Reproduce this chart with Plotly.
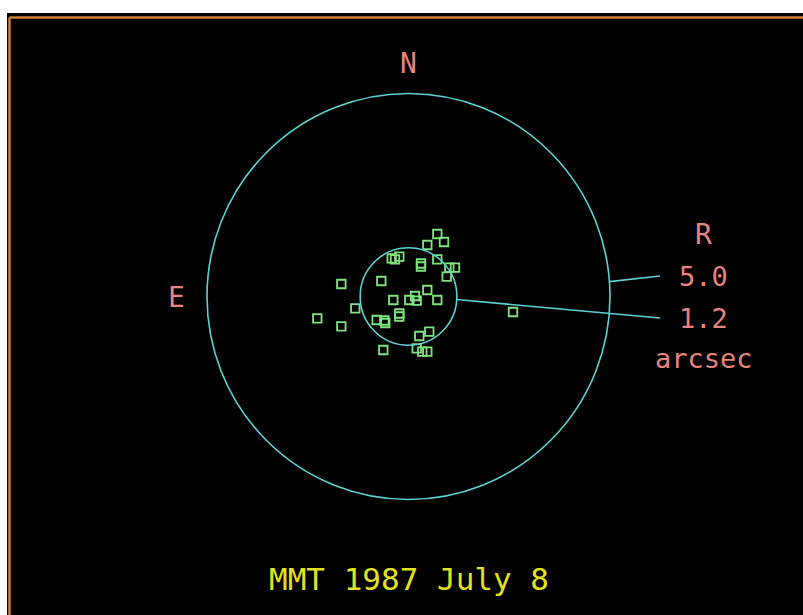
import math
import plotly.graph_objects as go

# ---- data (arcsec offsets from reference star) ----
east_offsets = [-0.715, -0.881, -0.467, 0.417, 0.335, 0.228, -0.310, -0.310, -0.715, -1.154,
                -1.012, -0.948, 0.675, 1.667, -0.467, -0.161, -0.020, -0.203, -0.715, 0.377,
                1.320, 0.228, 0.228, 2.263, 0.789, 0.600, 0.576, 1.667, -0.516, -0.268,
                0.625, -0.203, -0.342, -0.467, -2.593]
north_offsets = [1.539, 1.342, 1.268, 0.941, 0.916, 0.980, 0.813, 0.739, 0.916, 0.709,
                 0.709, 0.488, 0.382, 0.308, 0.160, 0.012, -0.086, -0.103, -0.086, -0.086,
                 -0.291, -0.419, -0.493, -0.537, -0.579, -0.591, -0.653, -0.734, -0.867, -0.973,
                 -1.318, -1.276, -1.360, -1.360, -0.382]
circle_radii = [5.0, 1.2]
radius_labels = ["5.0", "1.2"]
unit_label = "arcsec"
header_label = "R"
north_label = "N"
east_label = "E"
title_text = "MMT 1987 July 8"

# ---- styles / layout geometry ----
CYAN = "#5ed2d2"
GREEN = "#80e47e"
SALMON = "#e8837e"
YELLOW = "#e2e21e"
FONT = "DejaVu Sans Mono"
W, H = 803, 615
CX, CY = 408.5, 296.5    # pixel position of the origin
SX, SY = 40.3, 40.6      # pixels per arcsec

x_range = [CX / SX, (CX - W) / SX]
y_range = [(CY - H) / SY, CY / SY]

fig = go.Figure()
fig.add_trace(go.Scatter(
    x=east_offsets, y=north_offsets, mode="markers",
    marker=dict(symbol="square-open", size=8.5, color=GREEN, line=dict(width=1.8, color=GREEN)),
    hoverinfo="skip", showlegend=False,
))

shapes = []
shapes.append(dict(type="rect", xref="paper", yref="paper", x0=7 / W, x1=1.02, y0=-0.02, y1=1 - 13 / H,
                   fillcolor="black", line=dict(width=0), layer="below"))
ytop = 1 - 17.5 / H
xl = 9.5 / W
for col, wd in (("#9a5a26", 3), ("#d0853a", 1)):
    shapes.append(dict(type="line", xref="paper", yref="paper", x0=xl, x1=1.02, y0=ytop, y1=ytop,
                       line=dict(color=col, width=wd), layer="below"))
    shapes.append(dict(type="line", xref="paper", yref="paper", x0=xl, x1=xl, y0=-0.02, y1=ytop,
                       line=dict(color=col, width=wd), layer="below"))

for r in circle_radii:
    shapes.append(dict(type="circle", xref="x", yref="y", x0=-r, x1=r, y0=-r, y1=r,
                       line=dict(color=CYAN, width=1.6)))

leader_angles = [4.2, -3.6]   # degrees from west direction
label_east = -6.24
label_north = [0.505, -0.53]
for r, ang, ly in zip(circle_radii, leader_angles, label_north):
    sx = -r * math.cos(math.radians(ang))
    sy = r * math.sin(math.radians(ang))
    shapes.append(dict(type="line", xref="x", yref="y", x0=sx, y0=sy, x1=label_east, y1=ly,
                       line=dict(color=CYAN, width=1.6)))

ann = []
def txt(x, y, s, color, size):
    ann.append(dict(x=x, y=y, xref="x", yref="y", text=s, showarrow=False,
                    font=dict(family=FONT, size=size, color=color), xanchor="center", yanchor="middle"))

txt(0.0, 5.75, north_label, SALMON, 28)
txt(5.75, -0.02, east_label, SALMON, 28)
txt(-7.33, 1.52, header_label, SALMON, 28)
txt(-7.33, 0.50, radius_labels[0], SALMON, 27)
txt(-7.33, -0.53, radius_labels[1], SALMON, 27)
txt(-7.33, -1.52, unit_label, SALMON, 27)
txt(0.0, -6.95, title_text, YELLOW, 31)

fig.update_layout(
    width=W, height=H, margin=dict(l=0, r=0, t=0, b=0, pad=0),
    paper_bgcolor="white", plot_bgcolor="rgba(0,0,0,0)",
    xaxis=dict(range=x_range, visible=False, showgrid=False, zeroline=False),
    yaxis=dict(range=y_range, visible=False, showgrid=False, zeroline=False),
    shapes=shapes, annotations=ann, showlegend=False, hovermode=False,
)
fig.write_html("out.html", config={"displayModeBar": False},
               post_script="document.body.style.margin='0';document.body.style.overflow='hidden';")
